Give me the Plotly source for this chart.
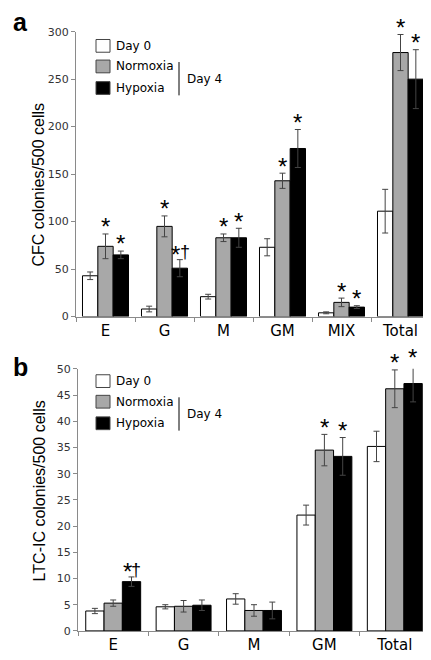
import plotly.graph_objects as go

# ---------------- data ----------------
cats_a = ["E", "G", "M", "GM", "MIX", "Total"]
day0_a = [43, 8, 21, 73, 4, 111]
day0_a_err = [4, 3, 2.5, 9, 1, 23]
norm_a = [74, 95, 83, 143, 15, 278]
norm_a_err = [13, 11, 4, 8, 4.5, 19]
hyp_a = [65, 51, 83, 177, 10, 250]
hyp_a_err = [4, 9, 10, 20, 1.5, 31]
sig_a_norm = ["*", "*", "*", "*", "*", "*"]
sig_a_hyp = ["*", "*†", "*", "*", "*", "*"]

cats_b = ["E", "G", "M", "GM", "Total"]
day0_b = [3.8, 4.6, 6.1, 22.1, 35.2]
day0_b_err = [0.5, 0.4, 1.0, 1.9, 2.9]
norm_b = [5.3, 4.7, 3.9, 34.5, 46.2]
norm_b_err = [0.6, 1.1, 1.1, 3.0, 3.6]
hyp_b = [9.4, 4.9, 3.9, 33.3, 47.2]
hyp_b_err = [0.9, 1.0, 1.6, 3.6, 3.5]
sig_b_norm = ["", "", "", "*", "*"]
sig_b_hyp = ["*†", "", "", "*", "*"]

series_names = ["Day 0", "Normoxia", "Hypoxia"]
yticks_a = [0, 50, 100, 150, 200, 250, 300]
yticks_b = [0, 5, 10, 15, 20, 25, 30, 35, 40, 45, 50]

# ---------------- style ----------------
W, H = 431, 660
FONT = "DejaVu Sans"
SANS = "Liberation Sans"
fills = ["#ffffff", "#a8a8a8", "#000000"]
AXC = "#8a8a8a"
ERRC = "#444444"

def px(x):
    return x / W

def py(y):
    return 1 - y / H

dom_a_x = [px(68), px(422)]
dom_a_y = [py(308.7), py(18)]
dom_b_x = [px(70), px(422)]
dom_b_y = [py(629.3), py(362)]
range_a = [0, 300]
range_b = [0, 50]
gap_a, gap_b = 0.22, 0.23

fig = go.Figure()

def add_panel(cats, vals, errs, xa, ya):
    for name, v, e, c in zip(series_names, vals, errs, fills):
        fig.add_trace(go.Bar(
            x=cats, y=v, name=name, marker=dict(color=c, line=dict(color="#000", width=1)),
            error_y=dict(type="data", array=e, visible=True, color=ERRC, thickness=1, width=3),
            xaxis=xa, yaxis=ya, showlegend=False, offsetgroup=name + xa,
        ))

add_panel(cats_a, [day0_a, norm_a, hyp_a], [day0_a_err, norm_a_err, hyp_a_err], "x", "y")
add_panel(cats_b, [day0_b, norm_b, hyp_b], [day0_b_err, norm_b_err, hyp_b_err], "x2", "y2")

annotations = []

def add_sig(cats, vals, errs, sigs, xref, yref, shift, ppu):
    for c, v, e, s in zip(cats, vals, errs, sigs):
        if not s:
            continue
        dag = "†" in s
        annotations.append(dict(
            x=c, y=v, xref=xref, yref=yref, text="*", showarrow=False,
            xshift=shift - (4 if dag else 0), yanchor="middle",
            yshift=e * ppu + (5 if dag else 7),
            font=dict(family=SANS, size=24, color="#000")))
        if dag:
            annotations.append(dict(
                x=c, y=v, xref=xref, yref=yref, text="†", showarrow=False,
                xshift=shift + 5, yanchor="middle", yshift=e * ppu + 7,
                font=dict(family=SANS, size=18, color="#000")))

ppu_a = (dom_a_y[1] - dom_a_y[0]) * H / (range_a[1] - range_a[0])
ppu_b = (dom_b_y[1] - dom_b_y[0]) * H / (range_b[1] - range_b[0])
wa = (dom_a_x[1] - dom_a_x[0]) * W / len(cats_a) * (1 - gap_a) / 3
wb = (dom_b_x[1] - dom_b_x[0]) * W / len(cats_b) * (1 - gap_b) / 3
add_sig(cats_a, norm_a, norm_a_err, sig_a_norm, "x", "y", 0, ppu_a)
add_sig(cats_a, hyp_a, hyp_a_err, sig_a_hyp, "x", "y", wa, ppu_a)
add_sig(cats_b, norm_b, norm_b_err, sig_b_norm, "x2", "y2", 0, ppu_b)
add_sig(cats_b, hyp_b, hyp_b_err, sig_b_hyp, "x2", "y2", wb, ppu_b)

shapes = []

def legend(top_y):
    ys = [top_y, top_y + 21, top_y + 43]
    for name, c, y0 in zip(series_names, fills, ys):
        shapes.append(dict(type="rect", xref="paper", yref="paper",
                           x0=px(88), x1=px(102), y0=py(y0), y1=py(y0 + 13),
                           line=dict(color="#444", width=1), fillcolor=c))
        annotations.append(dict(x=px(106), y=py(y0 + 6.5), xref="paper", yref="paper",
                                text=name, showarrow=False, xanchor="left", yanchor="middle",
                                font=dict(family=FONT, size=12, color="#000")))
    shapes.append(dict(type="line", xref="paper", yref="paper",
                       x0=px(171), x1=px(171), y0=py(top_y + 23), y1=py(top_y + 57),
                       line=dict(color="#000", width=1)))
    annotations.append(dict(x=px(177), y=py(top_y + 40), xref="paper", yref="paper",
                            text="Day 4", showarrow=False, xanchor="left", yanchor="middle",
                            font=dict(family=FONT, size=12, color="#000")))

legend(26)
legend(368)

# panel letters
annotations.append(dict(x=px(3), y=py(8), xref="paper", yref="paper", text="<b>a</b>",
                        showarrow=False, xanchor="left", yanchor="middle",
                        font=dict(family=SANS, size=25, color="#000")))
annotations.append(dict(x=px(3), y=py(360), xref="paper", yref="paper", text="<b>b</b>",
                        showarrow=False, xanchor="left", yanchor="middle",
                        font=dict(family=SANS, size=25, color="#000")))
# y titles
annotations.append(dict(x=px(31), y=py(174), xref="paper", yref="paper",
                        text="CFC colonies/500 cells", textangle=-90, showarrow=False,
                        xanchor="center", yanchor="middle",
                        font=dict(family=SANS, size=16, color="#000")))
annotations.append(dict(x=px(31), y=py(487), xref="paper", yref="paper",
                        text="LTC-IC colonies/500 cells", textangle=-90, showarrow=False,
                        xanchor="center", yanchor="middle",
                        font=dict(family=SANS, size=16, color="#000")))

xcommon = dict(type="category", showline=True, linecolor=AXC, linewidth=1, ticks="outside",
               tickson="boundaries", ticklen=4, tickcolor=AXC, showgrid=False,
               tickfont=dict(family=FONT, size=15, color="#000"), fixedrange=True)
ycommon = dict(showline=True, linecolor=AXC, linewidth=1, ticks="outside", ticklen=4,
               tickcolor=AXC, showgrid=False, zeroline=False,
               tickfont=dict(family=FONT, size=11, color="#333"))

fig.update_layout(
    width=W, height=H, margin=dict(l=0, r=0, t=0, b=0),
    paper_bgcolor="#fff", plot_bgcolor="#fff",
    barmode="group", bargap=gap_a, bargroupgap=0,
    xaxis=dict(domain=dom_a_x, anchor="y", **xcommon),
    yaxis=dict(domain=dom_a_y, anchor="x", range=range_a, tickvals=yticks_a, **ycommon),
    xaxis2=dict(domain=dom_b_x, anchor="y2", **xcommon),
    yaxis2=dict(domain=dom_b_y, anchor="x2", range=range_b, tickvals=yticks_b, **ycommon),
    shapes=shapes, annotations=annotations, showlegend=False,
    font=dict(family=FONT),
)

fig.write_html("out.html")
